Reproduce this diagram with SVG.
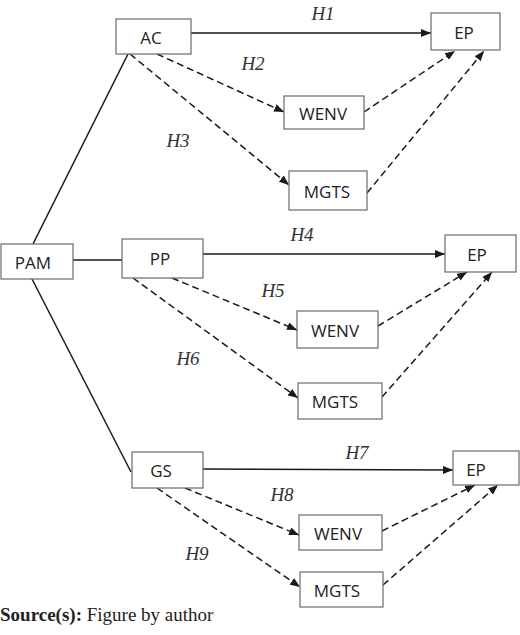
<svg xmlns="http://www.w3.org/2000/svg" width="520" height="635" viewBox="0 0 520 635">
<defs>
<marker id="ah" viewBox="0 0 10 8" refX="10" refY="4" markerWidth="10" markerHeight="8" markerUnits="userSpaceOnUse" orient="auto">
<path d="M0,0 L10,4 L0,8 Z" fill="#1a1a1a"/>
</marker>
<style>
.box{fill:#fff;stroke:#6a6a6a;stroke-width:1.2}
.lbl{font-family:"Open Sans","Noto Sans",sans-serif;font-size:17px;fill:#222;text-anchor:middle;dominant-baseline:central}
.h{font-family:"Liberation Serif",serif;font-style:italic;font-size:19px;fill:#333;text-anchor:middle;dominant-baseline:central}
.s{stroke:#1a1a1a;stroke-width:1.5;fill:none}
.d{stroke:#1a1a1a;stroke-width:1.5;fill:none;stroke-dasharray:7,4}
.a{marker-end:url(#ah)}
</style>
</defs>
<g id="connectors">
<path class="s" d="M33,244 L128,54"/>
<path class="s" d="M73,260 L122,260"/>
<path class="s" d="M32,279 L131,472"/>
<path class="s a" d="M191,33 L431,33"/>
<path class="d a" d="M157,54 L284,112"/>
<path class="d a" d="M130,54 L289,185"/>
<path class="d a" d="M364,112 L455,51"/>
<path class="d a" d="M367,193 L484,51"/>
<path class="s a" d="M203,254 L445,254"/>
<path class="d a" d="M172,278 L297,330"/>
<path class="d a" d="M133,278 L298,398"/>
<path class="d a" d="M378,326 L467,272"/>
<path class="d a" d="M382,397 L492,272"/>
<path class="s a" d="M203,469 L453,470"/>
<path class="d a" d="M185,488 L299,535"/>
<path class="d a" d="M157,488 L300,587"/>
<path class="d a" d="M382,531 L475,485"/>
<path class="d a" d="M383,585 L498,485"/>
</g>
<g id="hlabels">
<text class="h" x="323" y="13">H1</text>
<text class="h" x="253" y="63">H2</text>
<text class="h" x="178" y="140">H3</text>
<text class="h" x="302" y="234">H4</text>
<text class="h" x="273" y="290">H5</text>
<text class="h" x="188" y="358">H6</text>
<text class="h" x="357" y="452">H7</text>
<text class="h" x="282" y="494">H8</text>
<text class="h" x="197" y="553">H9</text>
</g>
<g id="PAM"><rect class="box" x="1" y="244" width="72" height="35"/><text class="lbl" x="33" y="262">PAM</text></g>
<g id="AC"><rect class="box" x="116" y="19" width="75" height="35"/><text class="lbl" x="151" y="37">AC</text></g>
<g id="PP"><rect class="box" x="122" y="239" width="81" height="39"/><text class="lbl" x="160" y="258">PP</text></g>
<g id="GS"><rect class="box" x="132" y="452" width="71" height="36"/><text class="lbl" x="161" y="470">GS</text></g>
<g id="EP1"><rect class="box" x="431" y="13" width="69" height="37"/><text class="lbl" x="464" y="32">EP</text></g>
<g id="WENV1"><rect class="box" x="284" y="96" width="80" height="33"/><text class="lbl" x="323" y="113">WENV</text></g>
<g id="MGTS1"><rect class="box" x="289" y="171" width="78" height="39"/><text class="lbl" x="327" y="191">MGTS</text></g>
<g id="EP2"><rect class="box" x="445" y="235" width="71" height="37"/><text class="lbl" x="477" y="254">EP</text></g>
<g id="WENV2"><rect class="box" x="297" y="311" width="81" height="37"/><text class="lbl" x="335" y="330">WENV</text></g>
<g id="MGTS2"><rect class="box" x="298" y="383" width="84" height="36"/><text class="lbl" x="335" y="401">MGTS</text></g>
<g id="EP3"><rect class="box" x="453" y="451" width="66" height="34"/><text class="lbl" x="476" y="469">EP</text></g>
<g id="WENV3"><rect class="box" x="299" y="515" width="83" height="35"/><text class="lbl" x="338" y="533">WENV</text></g>
<g id="MGTS3"><rect class="box" x="300" y="572" width="83" height="35"/><text class="lbl" x="337" y="590">MGTS</text></g>
<text x="0" y="621" font-family="Liberation Serif, serif" font-size="19" fill="#222"><tspan font-weight="bold">Source(s):</tspan> Figure by author</text>
</svg>
